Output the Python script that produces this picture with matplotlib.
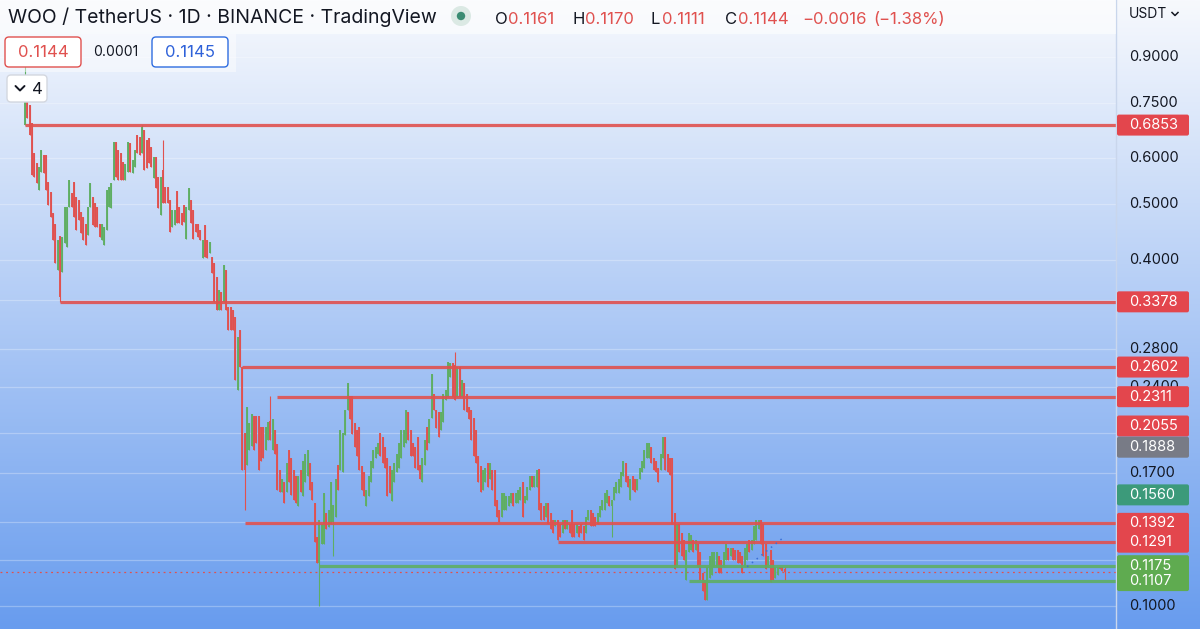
import numpy as np
import matplotlib.pyplot as plt
from matplotlib.patches import Rectangle, Circle, FancyBboxPatch

plt.rcParams['font.family'] = ['Inter', 'DejaVu Sans']

# ---- daily candles WOO/USDT ----
opens = [
    0.686, 0.773, 0.743, 0.690, 0.613, 0.589, 0.529, 0.568, 0.608, 0.608,
    0.546, 0.524, 0.482, 0.462, 0.384, 0.440, 0.380, 0.428, 0.420, 0.494,
    0.522, 0.546, 0.514, 0.508, 0.484, 0.475, 0.462, 0.441, 0.494, 0.514,
    0.502, 0.494, 0.462, 0.433, 0.424, 0.450, 0.494, 0.492, 0.550, 0.641,
    0.620, 0.614, 0.591, 0.550, 0.568, 0.638, 0.566, 0.580, 0.659, 0.654,
    0.613, 0.672, 0.646, 0.651, 0.628, 0.555, 0.603, 0.557, 0.478, 0.573,
    0.535, 0.535, 0.508, 0.456, 0.460, 0.526, 0.494, 0.482, 0.498, 0.435,
    0.488, 0.508, 0.488, 0.462, 0.462, 0.450, 0.403, 0.460, 0.433, 0.411,
    0.405, 0.395, 0.373, 0.327, 0.351, 0.338, 0.384, 0.331, 0.331, 0.327,
    0.318, 0.237, 0.302, 0.260, 0.200, 0.176, 0.187, 0.190, 0.214, 0.214,
    0.214, 0.205, 0.205, 0.187, 0.194, 0.210, 0.187, 0.202, 0.191, 0.172,
    0.158, 0.164, 0.158, 0.187, 0.181, 0.172, 0.168, 0.149, 0.172, 0.155,
    0.164, 0.168, 0.177, 0.164, 0.151, 0.132, 0.119, 0.128, 0.128, 0.145,
    0.137, 0.139, 0.140, 0.143, 0.176, 0.172, 0.171, 0.198, 0.219, 0.232,
    0.232, 0.208, 0.202, 0.205, 0.175, 0.171, 0.149, 0.155, 0.164, 0.174,
    0.181, 0.184, 0.200, 0.197, 0.189, 0.181, 0.175, 0.152, 0.164, 0.171,
    0.174, 0.181, 0.189, 0.192, 0.217, 0.202, 0.192, 0.189, 0.197, 0.176,
    0.164, 0.176, 0.205, 0.192, 0.212, 0.234, 0.219, 0.217, 0.202, 0.209,
    0.228, 0.231, 0.250, 0.264, 0.262, 0.231, 0.260, 0.231, 0.244, 0.234,
    0.222, 0.219, 0.212, 0.202, 0.182, 0.175, 0.159, 0.164, 0.177, 0.166,
    0.172, 0.172, 0.153, 0.147, 0.143, 0.147, 0.147, 0.149, 0.151, 0.157,
    0.151, 0.151, 0.153, 0.164, 0.151, 0.153, 0.159, 0.168, 0.161, 0.161,
    0.173, 0.151, 0.149, 0.143, 0.151, 0.145, 0.141, 0.138, 0.141, 0.139,
    0.134, 0.141, 0.136, 0.139, 0.147, 0.139, 0.134, 0.138, 0.139, 0.138,
    0.134, 0.141, 0.147, 0.145, 0.143, 0.139, 0.143, 0.147, 0.147, 0.151,
    0.155, 0.149, 0.153, 0.157, 0.157, 0.161, 0.168, 0.177, 0.168, 0.153,
    0.168, 0.166, 0.159, 0.166, 0.171, 0.174, 0.181, 0.181, 0.189, 0.181,
    0.179, 0.174, 0.172, 0.181, 0.197, 0.184, 0.181, 0.181, 0.145, 0.117,
    0.139, 0.134, 0.130, 0.111, 0.124, 0.125, 0.130, 0.125, 0.128, 0.124,
    0.114, 0.111, 0.1025, 0.112, 0.113, 0.117, 0.117, 0.122, 0.120, 0.117,
    0.120, 0.126, 0.122, 0.126, 0.125, 0.125, 0.124, 0.122, 0.117, 0.120,
    0.130, 0.125, 0.128, 0.130, 0.136, 0.141, 0.139, 0.128, 0.117, 0.125,
    0.120, 0.112, 0.113, 0.117, 0.117, 0.1161,
]
closes = [
    0.776, 0.705, 0.659, 0.561, 0.557, 0.543, 0.580, 0.620, 0.566, 0.529,
    0.498, 0.475, 0.433, 0.395, 0.433, 0.345, 0.438, 0.494, 0.494, 0.550,
    0.494, 0.475, 0.450, 0.469, 0.445, 0.433, 0.424, 0.494, 0.543, 0.460,
    0.456, 0.456, 0.438, 0.462, 0.456, 0.529, 0.535, 0.543, 0.641, 0.557,
    0.550, 0.550, 0.550, 0.587, 0.641, 0.568, 0.596, 0.620, 0.613, 0.608,
    0.680, 0.573, 0.578, 0.589, 0.580, 0.603, 0.533, 0.492, 0.557, 0.502,
    0.502, 0.502, 0.446, 0.488, 0.488, 0.463, 0.463, 0.460, 0.465, 0.494,
    0.533, 0.463, 0.435, 0.446, 0.438, 0.433, 0.433, 0.405, 0.403, 0.430,
    0.379, 0.338, 0.327, 0.354, 0.327, 0.392, 0.327, 0.302, 0.302, 0.302,
    0.247, 0.294, 0.260, 0.172, 0.172, 0.222, 0.208, 0.216, 0.187, 0.192,
    0.172, 0.179, 0.181, 0.205, 0.209, 0.194, 0.211, 0.184, 0.159, 0.158,
    0.166, 0.151, 0.177, 0.164, 0.156, 0.153, 0.151, 0.168, 0.158, 0.179,
    0.184, 0.187, 0.159, 0.153, 0.129, 0.119, 0.141, 0.139, 0.157, 0.136,
    0.147, 0.164, 0.150, 0.166, 0.159, 0.202, 0.200, 0.219, 0.244, 0.211,
    0.199, 0.189, 0.182, 0.172, 0.159, 0.155, 0.159, 0.168, 0.179, 0.187,
    0.189, 0.192, 0.182, 0.177, 0.174, 0.155, 0.157, 0.172, 0.177, 0.184,
    0.192, 0.202, 0.202, 0.219, 0.194, 0.182, 0.182, 0.174, 0.172, 0.166,
    0.181, 0.194, 0.187, 0.211, 0.253, 0.219, 0.204, 0.197, 0.217, 0.234,
    0.237, 0.265, 0.264, 0.231, 0.228, 0.260, 0.231, 0.247, 0.219, 0.217,
    0.211, 0.194, 0.182, 0.177, 0.164, 0.158, 0.172, 0.174, 0.161, 0.177,
    0.159, 0.149, 0.143, 0.140, 0.157, 0.157, 0.155, 0.155, 0.157, 0.149,
    0.157, 0.159, 0.161, 0.143, 0.155, 0.161, 0.168, 0.161, 0.168, 0.172,
    0.147, 0.141, 0.141, 0.151, 0.139, 0.136, 0.134, 0.141, 0.130, 0.132,
    0.141, 0.136, 0.141, 0.134, 0.132, 0.132, 0.139, 0.132, 0.134, 0.130,
    0.143, 0.147, 0.138, 0.138, 0.138, 0.145, 0.149, 0.153, 0.157, 0.159,
    0.149, 0.153, 0.161, 0.164, 0.166, 0.171, 0.179, 0.164, 0.161, 0.166,
    0.159, 0.158, 0.166, 0.174, 0.179, 0.187, 0.192, 0.192, 0.177, 0.172,
    0.171, 0.164, 0.184, 0.197, 0.172, 0.171, 0.169, 0.139, 0.116, 0.139,
    0.124, 0.122, 0.120, 0.125, 0.134, 0.133, 0.124, 0.130, 0.117, 0.111,
    0.106, 0.1025, 0.117, 0.122, 0.124, 0.124, 0.124, 0.114, 0.114, 0.124,
    0.128, 0.120, 0.126, 0.120, 0.120, 0.119, 0.119, 0.114, 0.126, 0.128,
    0.124, 0.130, 0.138, 0.141, 0.141, 0.128, 0.122, 0.116, 0.122, 0.110,
    0.111, 0.117, 0.117, 0.116, 0.115, 0.1144,
]
# long wicks that stick out of the bodies
wick_high = {0: 0.871, 50: 0.6853, 59: 0.646, 105: 0.232, 184: 0.276, 325: 0.117}
wick_low = {0: 0.6853, 15: 0.3378, 94: 0.147, 126: 0.100, 132: 0.122, 251: 0.132, 325: 0.1111}

# horizontal levels drawn on the chart (value, start candle)
res_levels = [0.6853, 0.3378, 0.2602, 0.2311, 0.1392, 0.1291]
res_start = [0, 15, 93, 108, 94, 228]
sup_levels = [0.1175, 0.1107]
sup_start = [126, 284]
last_price = 0.1144
trend_x = [309, 324]
trend_y = [0.117, 0.131]

# right price-scale
grid_vals = [0.9, 0.75, 0.6, 0.5, 0.4, 0.34, 0.28, 0.24, 0.2, 0.17, 0.14, 0.12, 0.1]
label_vals = [0.9, 0.75, 0.6, 0.5, 0.4, 0.28, 0.24, 0.17, 0.1]
tag_vals = [0.6853, 0.3378, 0.2602, 0.2311, 0.2055, 0.1888, 0.1560, 0.1392, 0.1291, 0.1175, 0.1107]
tag_kind = ['r', 'r', 'r', 'r', 'r', 'gray', 'teal', 'r', 'r', 'g', 'g']

RED = '#e0514f'
GREEN = '#5fae63'
DARK = '#131722'
tag_colors = {'r': '#e3464d', 'gray': '#787b86', 'teal': '#3c9a7a', 'g': '#5fab50'}

W, H = 1200, 629
PW = 1116  # width of the price pane in px
ymin, ymax = 0.0912, 1.1306

fig = plt.figure(figsize=(W / 100, H / 100), dpi=100)

# background gradient
bg = fig.add_axes([0, 0, 1, 1], zorder=0)
top = np.array([247, 249, 253]) / 255
bot = np.array([104, 156, 238]) / 255
t = np.linspace(0, 1, 300)[:, None]
grad = top + (bot - top) * t
bg.imshow(grad[:, None, :], aspect='auto', extent=[0, 1, 0, 1])
bg.set_axis_off()

ax = fig.add_axes([0, 0, PW / W, 1], zorder=1)
ax.set_facecolor('none')
ax.set_yscale('log')
ax.set_ylim(ymin, ymax)
n = len(closes)
step = 2.337
ax.set_xlim(-25 / step, (n - 1) + (PW - 25 - (n - 1) * step) / step)
for s in ax.spines.values():
    s.set_visible(False)
ax.set_xticks([])
ax.set_yticks([])
ax.yaxis.set_minor_locator(plt.NullLocator())

for v in grid_vals:
    ax.axhline(v, color='white', alpha=0.28, lw=0.9, zorder=1)

x = np.arange(n)
o = np.array(opens)
c = np.array(closes)
col = [GREEN if cc >= oo else RED for oo, cc in zip(o, c)]
hi = np.maximum(o, c)
lo = np.minimum(o, c)
whi = hi.copy()
wlo = lo.copy()
for k, v in wick_high.items():
    whi[k] = max(whi[k], v)
for k, v in wick_low.items():
    wlo[k] = min(wlo[k], v)
ax.vlines(x, wlo, whi, colors=col, lw=0.8, zorder=3)
ax.vlines(x, lo, hi, colors=col, lw=1.35, zorder=3, capstyle='butt')

xr = ax.get_xlim()[1]
ax.hlines(res_levels, res_start, xr, colors=RED, lw=2.3, zorder=4, alpha=0.9)
ax.hlines(sup_levels, sup_start, xr, colors=GREEN, lw=2.3, zorder=4, alpha=0.9)
ax.axhline(last_price, color=RED, lw=0.9, ls=(0, (1.5, 3)), zorder=2)
ax.plot(trend_x, trend_y, ls=(0, (1, 3)), color='#3b6fd6', lw=1.1, zorder=4)

# overlay in pixel coordinates
ov = fig.add_axes([0, 0, 1, 1], zorder=5)
ov.set_xlim(0, W)
ov.set_ylim(H, 0)
ov.set_axis_off()
ov.patch.set_alpha(0)


def ypx(v):
    return H - ax.transData.transform((0, v))[1]


ov.plot([PW, PW], [0, H], color='#c9d6ec', lw=1, zorder=1)

for v in label_vals:
    ov.text(1129, ypx(v), f'{v:.4f}', ha='left', va='center', fontsize=10.5, color=DARK, zorder=1)

k = 10.5
for i, (v, kind) in enumerate(zip(tag_vals, tag_kind)):
    y = ypx(v)
    ov.add_patch(FancyBboxPatch((PW + 1, y - k), 72, 2 * k, boxstyle='round,pad=0,rounding_size=2',
                                fc=tag_colors[kind], ec='none', zorder=2 + 2 * i))
    ov.text(1129, y, f'{v:.4f}', ha='left', va='center', fontsize=10.5, color='white',
            zorder=3 + 2 * i)

# header
ov.add_patch(Rectangle((0, 0), PW, 34, fc='white', ec='none', alpha=0.55, zorder=1))
ov.add_patch(Rectangle((0, 34), 236, 38, fc='white', ec='none', alpha=0.45, zorder=1))
ov.text(8, 17, 'WOO / TetherUS · 1D · BINANCE · TradingView', ha='left', va='center',
        fontsize=14, color=DARK, zorder=30)
ov.add_patch(Circle((461, 16), 10, fc='#dbe9e4', ec='none', zorder=30))
ov.add_patch(Circle((461, 16), 4.2, fc='#3b8c73', ec='none', zorder=31))

ohlc = [('O', 495, DARK), ('0.1161', 508, RED), ('H', 572, DARK), ('0.1170', 585, RED),
        ('L', 650, DARK), ('0.1111', 662, RED), ('C', 725, DARK), ('0.1144', 738, RED),
        ('−0.0016', 802, RED), ('(−1.38%)', 873, RED)]
for s, xx, cc in ohlc:
    ov.text(xx, 19, s, ha='left', va='center', fontsize=12, color=cc, zorder=30)

ov.add_patch(FancyBboxPatch((5, 37), 76, 30, boxstyle='round,pad=0,rounding_size=4',
                            fc='white', ec=RED, lw=1, zorder=30))
ov.text(43, 52.5, '0.1144', ha='center', va='center', fontsize=12, color=RED, zorder=31)
ov.text(93, 52.5, '0.0001', ha='left', va='center', fontsize=10, color=DARK, zorder=31)
ov.add_patch(FancyBboxPatch((152, 37), 76, 30, boxstyle='round,pad=0,rounding_size=4',
                            fc='white', ec='#2f6de0', lw=1, zorder=30))
ov.text(190, 52.5, '0.1145', ha='center', va='center', fontsize=12, color='#2f62d9', zorder=31)

ov.add_patch(FancyBboxPatch((7, 75), 40, 27, boxstyle='round,pad=0,rounding_size=4',
                            fc='white', ec='#d3d7df', lw=1, zorder=30))
ov.plot([15.5, 20, 24.5], [86, 90.5, 86], color=DARK, lw=1.4, solid_capstyle='round', zorder=31)
ov.text(32, 89, '4', ha='left', va='center', fontsize=12, color=DARK, zorder=31)

ov.text(1129, 14, 'USDT', ha='left', va='center', fontsize=10, color=DARK, zorder=30)
ov.plot([1172, 1175, 1178], [12.5, 15.5, 12.5], color=DARK, lw=1.1, zorder=30)

fig.savefig('out.png', dpi=100)
